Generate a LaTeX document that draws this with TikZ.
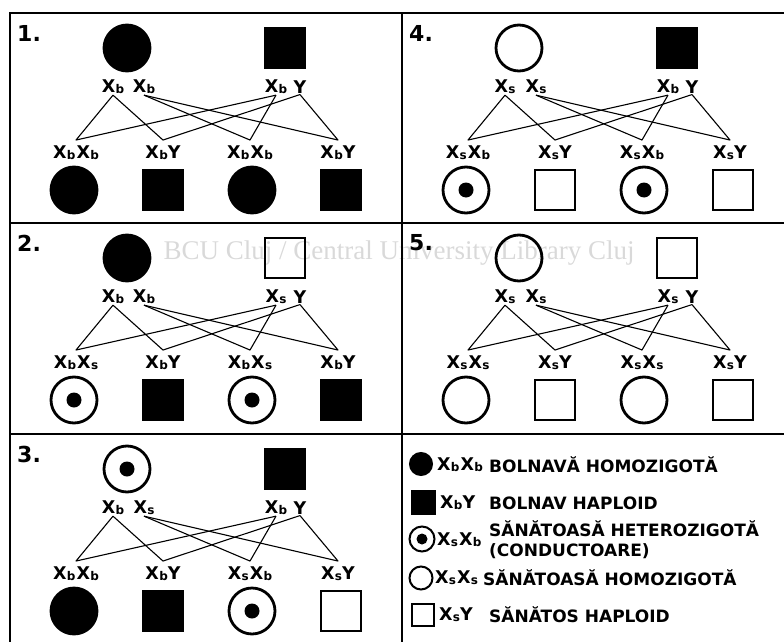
\documentclass[tikz,border=0pt]{standalone}
\usepackage{fontspec}
\setmainfont{DejaVu Sans}
\newfontfamily\wmfont{Liberation Serif}
% allele: X with a lowered small index
\newcommand\gX[1]{X\kern.3pt\raisebox{-1pt}{\fontsize{12}{12}\selectfont #1}}

\begin{document}
\begin{tikzpicture}[x=1pt,y=-1pt,
  sym/.style={minimum size=40pt,inner sep=0pt,line width=2.8pt},
  fem-bb/.style={sym,circle,draw,fill=black,minimum size=46pt},
  fem-ss/.style={sym,circle,draw,minimum size=46pt},
  carrier/.style={sym,circle,draw,minimum size=46pt,
    path picture={\fill (path picture bounding box.center) circle (#1);}},
  carrier/.default=7.5,
  fem-bs/.style={carrier},fem-sb/.style={carrier},
  mal-b/.style={sym,draw,fill=black},
  mal-s/.style={sym,draw},
  gam/.style={inner sep=1pt,font=\fontsize{17.5}{17.5}\selectfont\bfseries},
  kid/.style={gam,outer ysep=5pt},
  num/.style={anchor=west,inner sep=0pt,font=\fontsize{22}{22}\selectfont\bfseries},
  cross/.style={line width=1.1pt,line join=round},
  frame/.style={line width=2pt},
  gen/.style={gam,anchor=west,inner sep=0pt},
  leg/.style={anchor=west,inner sep=0pt,align=left,font=\fontsize{17}{20}\selectfont\bfseries}]
  \useasboundingbox (0,0) rectangle (784,642);

  \node[text=black!15,anchor=west,font=\wmfont\fontsize{27}{27}\selectfont] (wm) at (160,253)
    {BCU Cluj / Central University Library Cluj};

  % panel frames
  \draw[frame] (784,13) -- (10,13) -- (10,642);
  \draw[frame] (10,223) -- (784,223);
  \draw[frame] (10,434) -- (784,434);
  \draw[frame] (402,13) -- (402,642);

  % one cross per panel: mother alleles \ma,\mb; father allele \fa
  \foreach \n/\ox/\oy/\ma/\mb/\fa in {1/10/13/b/b/b,2/10/223/b/b/s,3/10/434/b/s/b,
                                      4/402/13/s/s/b,5/402/223/s/s/s}{
    \begin{scope}[shift={(\ox,\oy)}]
      \node[num] (n\n) at (7,20) {\n.};
      \node[fem-\ma\mb] (mom\n) at (117,35) {};
      \node[mal-\fa] (dad\n) at (275,35) {};
      \node[gam] (ma\n) at (103,74) {\gX{\ma}};
      \node[gam] (mb\n) at (134,74) {\gX{\mb}};
      \node[gam] (fx\n) at (266,74) {\gX{\fa}};
      \node[gam] (fy\n) at (290,74) {Y};
      \node[kid] (ka\n) at (66,140) {\gX{\ma}\kern1pt\gX{\fa}};
      \node[kid] (kb\n) at (153,140) {\gX{\ma}Y};
      \node[kid] (kc\n) at (240,140) {\gX{\mb}\kern1pt\gX{\fa}};
      \node[kid] (kd\n) at (328,140) {\gX{\mb}Y};
      \node[fem-\ma\fa] (ca\n) at (64,177) {};
      \node[mal-\ma] (cb\n) at (153,177) {};
      \node[fem-\mb\fa] (cc\n) at (242,177) {};
      \node[mal-\mb] (cd\n) at (331,177) {};
      \draw[cross] (ma\n.south) -- (ka\n.north) -- (fx\n.south);
      \draw[cross] (ma\n.south) -- (kb\n.north) -- (fy\n.south);
      \draw[cross] (mb\n.south) -- (kc\n.north) -- (fx\n.south);
      \draw[cross] (mb\n.south) -- (kd\n.north) -- (fy\n.south);
    \end{scope}
  }

  % key
  \node[fem-bb,minimum size=22pt,line width=2pt] (lg1) at (421,464) {};
  \node[gen] (lg1g) at (437,465) {\gX{b}\kern1pt\gX{b}};
  \node[leg] (lg1t) at (489,465) {BOLNAVĂ HOMOZIGOTĂ};
  \node[mal-b,minimum size=23pt,line width=2pt] (lg2) at (423,502) {};
  \node[gen] (lg2g) at (440,503) {\gX{b}Y};
  \node[leg] (lg2t) at (489,503) {BOLNAV HAPLOID};
  \node[carrier=5.5,minimum size=25pt,line width=2pt] (lg3) at (422,539) {};
  \node[gen] (lg3g) at (437,540) {\gX{s}\kern1pt\gX{b}};
  \node[leg] (lg3t) at (489,540) {SĂNĂTOASĂ HETEROZIGOTĂ\\(CONDUCTOARE)};
  \node[fem-ss,minimum size=23pt,line width=2pt] (lg4) at (421,578) {};
  \node[gen] (lg4g) at (435,578) {\gX{s}\kern1pt\gX{s}};
  \node[leg] (lg4t) at (483,578) {SĂNĂTOASĂ HOMOZIGOTĂ};
  \node[mal-s,minimum size=22pt,line width=2pt] (lg5) at (423,615) {};
  \node[gen] (lg5g) at (439,615) {\gX{s}Y};
  \node[leg] (lg5t) at (489,615) {SĂNĂTOS HAPLOID};
\end{tikzpicture}
\end{document}
